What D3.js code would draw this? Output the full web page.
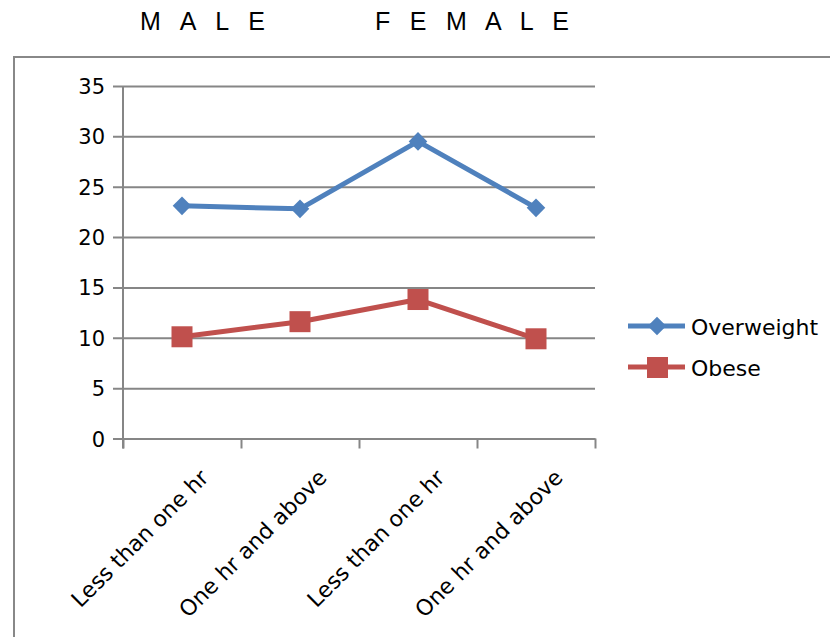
<!DOCTYPE html>
<html>
<head>
<meta charset="utf-8">
<script src="https://cdn.jsdelivr.net/npm/d3@7"></script>
<style>
  html, body { margin: 0; padding: 0; background: #fff; }
  svg { display: block; }
</style>
</head>
<body>
<svg id="chart" width="830" height="637"></svg>
<script>
// Screen-time groups (first two male, last two female)
const categories = ["Less than one hr", "One hr and above", "Less than one hr", "One hr and above"];
const overweight = [23.1, 22.8, 29.5, 22.9];
const obese = [10.1, 11.6, 13.8, 9.9];
const yTicks = [0, 5, 10, 15, 20, 25, 30, 35];
const groupTitles = ["M A L E", "F E M A L E"];
const seriesNames = ["Overweight", "Obese"];

const blue = "#4F81BD", red = "#C0504D", grid = "#868686";
const axisFont = "'DejaVu Sans', Verdana, sans-serif";

const svg = d3.select("#chart");

// Plot area
const plotLeft = 123, plotRight = 595, plotTop = 86, plotBottom = 438.5;

const xBand = d3.scaleBand().domain(d3.range(categories.length)).range([plotLeft, plotRight]).padding(0);
const xEdge = d3.scaleLinear().domain([0, categories.length]).range([plotLeft, plotRight]);
const y = d3.scaleLinear().domain([0, 35]).range([plotBottom, plotTop]);
const cx = i => xBand(i) + xBand.bandwidth() / 2;

// Group titles above the chart
const titleX = [[140, 125], [375, 194]];
svg.selectAll("text.group")
  .data(groupTitles)
  .join("text")
  .attr("class", "group")
  .attr("x", (d, i) => titleX[i][0])
  .attr("y", 30)
  .attr("textLength", (d, i) => titleX[i][1])
  .attr("lengthAdjust", "spacing")
  .attr("font-family", "'Liberation Sans Narrow', 'Liberation Sans', Arial, sans-serif")
  .attr("font-size", 25)
  .attr("fill", "#000")
  .text(d => d);

// Chart frame (top and left edges)
svg.append("path")
  .attr("d", "M14,637 L14,57 L830,57")
  .attr("fill", "none")
  .attr("stroke", "#888")
  .attr("stroke-width", 2);

// Y axis with gridlines
const yAxis = svg.append("g")
  .attr("transform", `translate(${plotLeft},0)`)
  .call(d3.axisLeft(y).tickValues(yTicks).tickSizeInner(10).tickSizeOuter(0).tickPadding(8));
yAxis.select(".domain").remove();
yAxis.selectAll(".tick line")
  .attr("x1", -10)
  .attr("x2", plotRight - plotLeft)
  .attr("stroke", grid)
  .attr("stroke-width", 2);
yAxis.selectAll(".tick text")
  .attr("font-family", axisFont)
  .attr("font-size", 21)
  .attr("fill", "#000")
  .attr("dy", "0.36em");

// Vertical axis line
svg.append("line")
  .attr("x1", plotLeft).attr("x2", plotLeft)
  .attr("y1", plotTop).attr("y2", plotBottom + 10)
  .attr("stroke", grid).attr("stroke-width", 2);

// X axis: ticks at category boundaries
const xAxis = svg.append("g")
  .attr("transform", `translate(0,${plotBottom})`)
  .call(d3.axisBottom(xEdge).tickValues(d3.range(categories.length + 1)).tickFormat("").tickSizeInner(10).tickSizeOuter(0));
xAxis.select(".domain").attr("stroke", grid).attr("stroke-width", 2);
xAxis.selectAll(".tick line").attr("stroke", grid).attr("stroke-width", 2);

// Rotated category labels
svg.selectAll("text.cat")
  .data(categories)
  .join("text")
  .attr("class", "cat")
  .attr("transform", (d, i) => `translate(${cx(i) + 28},479) rotate(-45)`)
  .attr("text-anchor", "end")
  .attr("font-family", axisFont)
  .attr("font-size", 22)
  .attr("fill", "#000")
  .text(d => d);

// Series lines
const line = d3.line().x((d, i) => cx(i)).y(d => y(d));
svg.append("path").datum(overweight)
  .attr("d", line).attr("fill", "none")
  .attr("stroke", blue).attr("stroke-width", 5).attr("stroke-linejoin", "round");
svg.append("path").datum(obese)
  .attr("d", line).attr("fill", "none")
  .attr("stroke", red).attr("stroke-width", 5).attr("stroke-linejoin", "round");

// Markers
const diamond = d3.symbol().type(d3.symbolDiamond2).size(220);
svg.selectAll("path.ow")
  .data(overweight)
  .join("path")
  .attr("class", "ow")
  .attr("transform", (d, i) => `translate(${cx(i)},${y(d)})`)
  .attr("d", diamond)
  .attr("fill", blue);

const sq = 21;
svg.selectAll("rect.ob")
  .data(obese)
  .join("rect")
  .attr("class", "ob")
  .attr("x", (d, i) => cx(i) - sq / 2)
  .attr("y", d => y(d) - sq / 2)
  .attr("width", sq).attr("height", sq)
  .attr("fill", red);

// Legend
const legend = svg.append("g");
const legY = [326, 367];
const colors = [blue, red];
seriesNames.forEach((name, i) => {
  const g = legend.append("g");
  g.append("line")
    .attr("x1", 628).attr("x2", 685)
    .attr("y1", legY[i]).attr("y2", legY[i])
    .attr("stroke", colors[i]).attr("stroke-width", 5);
  if (i === 0) {
    g.append("path")
      .attr("transform", `translate(657,${legY[i]})`)
      .attr("d", diamond)
      .attr("fill", blue);
  } else {
    g.append("rect")
      .attr("x", 647).attr("y", legY[i] - 10)
      .attr("width", 21).attr("height", 21)
      .attr("fill", red);
  }
  g.append("text")
    .attr("x", 691).attr("y", legY[i] + 9)
    .attr("font-family", axisFont)
    .attr("font-size", 22)
    .attr("fill", "#000")
    .text(name);
});
</script>
</body>
</html>
